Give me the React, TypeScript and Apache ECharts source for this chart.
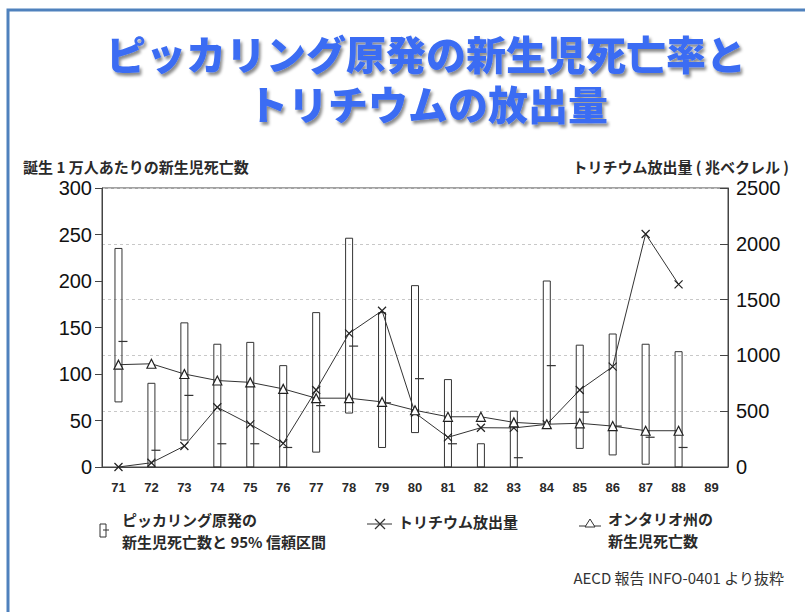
import React, { useEffect, useRef } from "react";
import * as echarts from "echarts";

const years = ["71","72","73","74","75","76","77","78","79","80","81","82","83","84","85","86","87","88","89"];
const ciLow = [70, 0, 29, 0, 0, 0, 16, 58, 21, 37, 0, 0, 0, 46, 20, 13, 3, 0, null];
const ciHigh = [235, 90, 155, 132, 134, 109, 166, 246, 166, 195, 94, 25, 60, 200, 131, 143, 132, 124, null];
const ciEst = [135, 18, 77, 25, 25, 21, 66, 130, 69, 95, 25, null, 10, 109, 59, 44, 32, 21, null];
const tritium = [0, 38, 188, 535, 382, 212, 690, 1198, 1400, 485, 266, 352, 350, 382, 690, 899, 2088, 1637, null];
const ontario = [110, 111, 100, 93, 91, 84, 74, 74, 70, 61, 54, 54, 48, 46, 47, 44, 39, 39, null];
const leftTicks = { min: 0, max: 300, interval: 50 };
const rightTicks = { min: 0, max: 2500, interval: 500 };

const titleLine1 = "ピッカリング原発の新生児死亡率と";
const titleLine2 = "トリチウムの放出量";
const leftName = "誕生 1 万人あたりの新生児死亡数";
const rightName = "トリチウム放出量 ( 兆ベクレル )";
const legend1a = "ピッカリング原発の";
const legend1b = "新生児死亡数と 95% 信頼区間";
const legend2 = "トリチウム放出量";
const legend3a = "オンタリオ州の";
const legend3b = "新生児死亡数";
const footnote = "AECD 報告 INFO-0401 より抜粋";

const JP = '"Noto Sans CJK JP", "Noto Sans", sans-serif';
const LAT = '"Liberation Sans", Arial, "Noto Sans CJK JP", sans-serif';
const INK = "#2a2a2a";

const titleStyle = {
  fontFamily: JP,
  fontSize: 40,
  fontWeight: 900,
  color: "#3b6cf3",
  lineHeight: 42,
  textShadowColor: "rgba(0,0,0,0.45)",
  textShadowBlur: 3,
  textShadowOffsetX: 2,
  textShadowOffsetY: 3,
};

export default function App() {
  const ref = useRef<HTMLDivElement>(null);
  useEffect(() => {
    if (!ref.current) return;
    const chart = echarts.init(ref.current, undefined, { renderer: "svg" });
    const boxData = years
      .map((_, i) => [i, ciLow[i], ciHigh[i], ciEst[i] == null ? NaN : ciEst[i]])
      .filter((d) => ciHigh[d[0] as number] != null);

    const option: any = {
      animation: false,
      backgroundColor: "#ffffff",
      title: [
        { text: titleLine1, left: 426, top: 32, textAlign: "center", padding: 0, textStyle: titleStyle },
        { text: titleLine2, left: 428, top: 82, textAlign: "center", padding: 0, textStyle: titleStyle },
      ],
      grid: {
        left: 102,
        right: 77,
        top: 188,
        bottom: 145,
        show: true,
        borderColor: "#444",
        borderWidth: 1,
        backgroundColor: "transparent",
      },
      xAxis: {
        type: "category",
        data: years,
        boundaryGap: true,
        axisLine: { lineStyle: { color: "#444", width: 1 } },
        axisTick: { inside: true, alignWithLabel: true, length: 7, lineStyle: { color: "#555" } },
        axisLabel: { fontFamily: LAT, fontSize: 13, fontWeight: "bold", color: INK, margin: 14 },
        splitLine: { show: false },
      },
      yAxis: [
        {
          type: "value",
          min: leftTicks.min,
          max: leftTicks.max,
          interval: leftTicks.interval,
          axisLine: { show: true, lineStyle: { color: "#444" } },
          axisTick: { show: true, inside: false, length: 7, lineStyle: { color: "#444" } },
          axisLabel: { fontFamily: LAT, fontSize: 20, color: "#111", margin: 10, formatter: (v: number) => String(v) },
          splitLine: { show: false },
        },
        {
          type: "value",
          min: rightTicks.min,
          max: rightTicks.max,
          interval: rightTicks.interval,
          position: "right",
          axisLine: { show: true, lineStyle: { color: "#444" } },
          axisTick: { show: true, inside: true, length: 8, lineStyle: { color: "#444" } },
          axisLabel: { fontFamily: LAT, fontSize: 20, color: "#111", margin: 8, formatter: (v: number) => String(v) },
          splitLine: { show: true, lineStyle: { color: "#c8c8c8", type: [3, 3], width: 1 } },
        },
      ],
      series: [
        {
          type: "custom",
          name: "ci",
          xAxisIndex: 0,
          yAxisIndex: 0,
          z: 2,
          encode: { x: 0, y: [1, 2, 3] },
          data: boxData,
          renderItem: (params: any, api: any) => {
            const i = api.value(0);
            const lo = api.value(1);
            const hi = api.value(2);
            const est = api.value(3);
            const pHi = api.coord([i, hi]);
            const pLo = api.coord([i, lo]);
            const w = 7;
            const children: any[] = [
              {
                type: "rect",
                shape: { x: pHi[0] - w / 2, y: pHi[1], width: w, height: pLo[1] - pHi[1] },
                style: { fill: "none", stroke: "#333", lineWidth: 1 },
              },
            ];
            if (!isNaN(est)) {
              const pE = api.coord([i, est]);
              children.push({
                type: "line",
                shape: { x1: pE[0], y1: pE[1], x2: pE[0] + 9, y2: pE[1] },
                style: { stroke: "#333", lineWidth: 1.2 },
              });
            }
            return { type: "group", children };
          },
        },
        {
          type: "line",
          name: legend2,
          yAxisIndex: 1,
          z: 3,
          data: tritium,
          symbol: "path://M0,0L10,10M10,0L0,10",
          symbolSize: 8,
          showAllSymbol: true,
          itemStyle: { color: "rgba(0,0,0,0)", borderColor: "#222", borderWidth: 1.2 },
          lineStyle: { color: "#333", width: 1 },
        },
        {
          type: "line",
          name: legend3b,
          yAxisIndex: 0,
          z: 4,
          data: ontario,
          symbol: "triangle",
          symbolSize: 9,
          showAllSymbol: true,
          itemStyle: { color: "#ffffff", borderColor: "#222", borderWidth: 1.2 },
          lineStyle: { color: "#333", width: 1 },
        },
      ],
      graphic: [
        {
          type: "rect",
          shape: { x: 8, y: 10, width: 1200, height: 1200 },
          style: { fill: "none", stroke: "#4f81bd", lineWidth: 3 },
          silent: true,
        },
        {
          type: "text",
          x: 23,
          y: 166,
          style: { text: leftName, font: `bold 15px ${JP}`, fill: INK, textAlign: "left", textVerticalAlign: "middle" },
        },
        {
          type: "text",
          x: 789,
          y: 166,
          style: { text: rightName, font: `bold 15px ${JP}`, fill: INK, textAlign: "right", textVerticalAlign: "middle" },
        },
        // legend 1
        {
          type: "rect",
          shape: { x: 100, y: 524, width: 6, height: 13 },
          style: { fill: "none", stroke: "#333", lineWidth: 1 },
        },
        {
          type: "line",
          shape: { x1: 103, y1: 530, x2: 109, y2: 530 },
          style: { stroke: "#333", lineWidth: 1 },
        },
        {
          type: "text",
          x: 122,
          y: 519,
          style: { text: legend1a, font: `bold 15px ${JP}`, fill: INK, textAlign: "left", textVerticalAlign: "middle" },
        },
        {
          type: "text",
          x: 122,
          y: 541,
          style: { text: legend1b, font: `bold 15px ${JP}`, fill: INK, textAlign: "left", textVerticalAlign: "middle" },
        },
        // legend 2
        {
          type: "line",
          shape: { x1: 367, y1: 524, x2: 392, y2: 524 },
          style: { stroke: "#333", lineWidth: 1 },
        },
        {
          type: "line",
          shape: { x1: 375, y1: 519, x2: 385, y2: 529 },
          style: { stroke: "#333", lineWidth: 1.2 },
        },
        {
          type: "line",
          shape: { x1: 385, y1: 519, x2: 375, y2: 529 },
          style: { stroke: "#333", lineWidth: 1.2 },
        },
        {
          type: "text",
          x: 398,
          y: 521,
          style: { text: legend2, font: `bold 15px ${JP}`, fill: INK, textAlign: "left", textVerticalAlign: "middle" },
        },
        // legend 3
        {
          type: "line",
          shape: { x1: 579, y1: 526, x2: 601, y2: 526 },
          style: { stroke: "#333", lineWidth: 1 },
        },
        {
          type: "polygon",
          shape: { points: [[590, 519], [585, 527], [595, 527]] },
          style: { fill: "#fff", stroke: "#333", lineWidth: 1 },
        },
        {
          type: "text",
          x: 608,
          y: 518,
          style: { text: legend3a, font: `bold 15px ${JP}`, fill: INK, textAlign: "left", textVerticalAlign: "middle" },
        },
        {
          type: "text",
          x: 608,
          y: 540,
          style: { text: legend3b, font: `bold 15px ${JP}`, fill: INK, textAlign: "left", textVerticalAlign: "middle" },
        },
        {
          type: "text",
          x: 784,
          y: 577,
          style: {
            text: footnote,
            font: `15px "Liberation Sans Narrow", "Noto Sans CJK JP", sans-serif`,
            fill: "#333",
            textAlign: "right",
            textVerticalAlign: "middle",
          },
        },
      ],
    };
    chart.setOption(option);
    return () => chart.dispose();
  }, []);
  return (
    <div
      ref={ref}
      style={{ position: "fixed", left: 0, top: 0, width: 805, height: 612, background: "#fff" }}
    />
  );
}
